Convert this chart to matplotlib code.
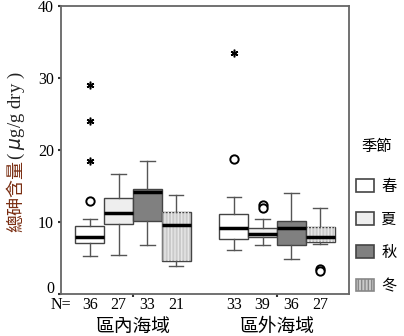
import numpy as np
import matplotlib
matplotlib.use('Agg')
import matplotlib.pyplot as plt
import matplotlib.transforms as mtransforms
from matplotlib.patches import Patch, PathPatch

# values (arsenic, ug/g dry)
seasons = ['春', '夏', '秋', '冬']
zones = ['區內海域', '區外海域']
counts = [[36, 27, 33, 21], [33, 39, 36, 27]]

whislo = [[5.3, 5.4, 6.8, 3.9], [6.1, 6.8, 4.9, 7.0]]
q1 = [[7.1, 9.7, 10.1, 4.6], [7.6, 7.9, 6.8, 7.2]]
med = [[7.9, 11.25, 14.2, 9.6], [9.2, 8.3, 9.2, 7.9]]
q3 = [[9.4, 13.3, 14.6, 11.4], [11.1, 9.2, 10.1, 9.3]]
whishi = [[10.4, 16.7, 18.5, 13.75], [13.5, 10.4, 14.0, 11.9]]
circles = [[[12.9], [], [], []], [[18.8], [12.3, 12.0], [], [3.5, 3.2]]]
stars = [[[18.5, 24.0, 29.0], [], [], []], [[33.5], [], [], []]]

colors = ['#ffffff', '#eeeeee', '#808080', '#cacaca']
cjk = ['Noto Sans CJK TC', 'DejaVu Sans']
serif = 'Liberation Serif'

fig = plt.figure(figsize=(4.04, 3.36), dpi=100)
ax = fig.add_axes([61 / 404, 1 - 294 / 336, 288 / 404, 288 / 336])

offsets = [-0.3, -0.1, 0.1, 0.3]
stats, pos, cols = [], [], []
for g in range(2):
    for s in range(4):
        stats.append(dict(med=med[g][s], q1=q1[g][s], q3=q3[g][s],
                          whislo=whislo[g][s], whishi=whishi[g][s], fliers=[]))
        pos.append(g + 0.5 + offsets[s])
        cols.append(colors[s])

bp = ax.bxp(stats, positions=pos, widths=0.2, patch_artist=True,
            boxprops=dict(edgecolor='#444444', linewidth=1.0),
            medianprops=dict(color='black', linewidth=2.5, zorder=3),
            whiskerprops=dict(color='#555555', linewidth=1.0),
            capprops=dict(color='#555555', linewidth=1.0),
            capwidths=0.1)
for i, (box, c) in enumerate(zip(bp['boxes'], cols)):
    box.set_facecolor(c)
    if i % 4 == 3:
        ax.add_patch(PathPatch(box.get_path(), fill=False, hatch='|||||',
                               edgecolor='#e6e6e6', linewidth=0, zorder=2.05))

for g in range(2):
    for s in range(4):
        x = g + 0.5 + offsets[s]
        if circles[g][s]:
            ax.plot([x] * len(circles[g][s]), circles[g][s], 'o', ms=6,
                    mfc='white', mec='black', mew=1.4, zorder=4)
        if stars[g][s]:
            ax.plot([x] * len(stars[g][s]), stars[g][s], marker=(6, 2, 0),
                    ls='none', ms=5.5, color='black', mew=1.1, zorder=4)

ax.set_xlim(0, 2)
ax.set_ylim(0, 40)
ax.set_yticks([0, 10, 20, 30, 40])
ax.set_xticks([0.5, 1.5])
ax.set_xticklabels([])
ax.tick_params(length=2, width=1.5, color='#333333', pad=3)
for lab in ax.get_yticklabels():
    lab.set_fontfamily(serif)
    lab.set_fontsize(11.5)
# the "0" label sits a little above its tick in the reference
zero = ax.get_yticklabels()[0]
zero.set_transform(zero.get_transform() +
                   mtransforms.ScaledTranslation(0, 7 / 100, fig.dpi_scale_trans))
for sp in ax.spines.values():
    sp.set_color('#666666')
    sp.set_linewidth(1.3)

tr = ax.get_xaxis_transform()
ax.text(0.0, -0.037, 'N=', transform=tr, ha='center', va='center',
        family=serif, fontsize=11.5)
for g in range(2):
    for s in range(4):
        ax.text(g + 0.5 + offsets[s], -0.037, str(counts[g][s]), transform=tr,
                ha='center', va='center', family=serif, fontsize=11.5)
    ax.text(g + 0.5, -0.111, zones[g], transform=tr, ha='center', va='center',
            family=cjk, fontsize=13.5)

# y label: Chinese part in brown, unit part in black
t1 = fig.text(16 / 404, 1 - 232 / 336, '總砷含量', rotation=90, ha='center',
              va='bottom', family=cjk, fontsize=13, color='#7a2e12')
fig.canvas.draw()
bb = t1.get_window_extent()
fig.text(16 / 404, bb.y1 / fig.bbox.height, '( $\\mu$g/g dry )', rotation=90,
         ha='center', va='bottom', family=serif, fontsize=13.5, color='#222222')

# legend
fig.text(377 / 404, 1 - 147 / 336, '季節', ha='center', va='center',
         family=cjk, fontsize=11)
handles = [Patch(facecolor=c, edgecolor='#444444', linewidth=1.2) for c in colors]
handles[3] = Patch(facecolor=colors[3], edgecolor='#888888', linewidth=1.2, hatch='|||||')
fig.legend(handles, seasons, loc='upper left',
           bbox_to_anchor=(356 / 404, 1 - 178 / 336), frameon=False,
           prop=dict(family=cjk, size=11), handlelength=1.15,
           handleheight=0.9, labelspacing=1.05, handletextpad=0.5,
           borderaxespad=0, borderpad=0)

fig.savefig('out.png', dpi=100)
